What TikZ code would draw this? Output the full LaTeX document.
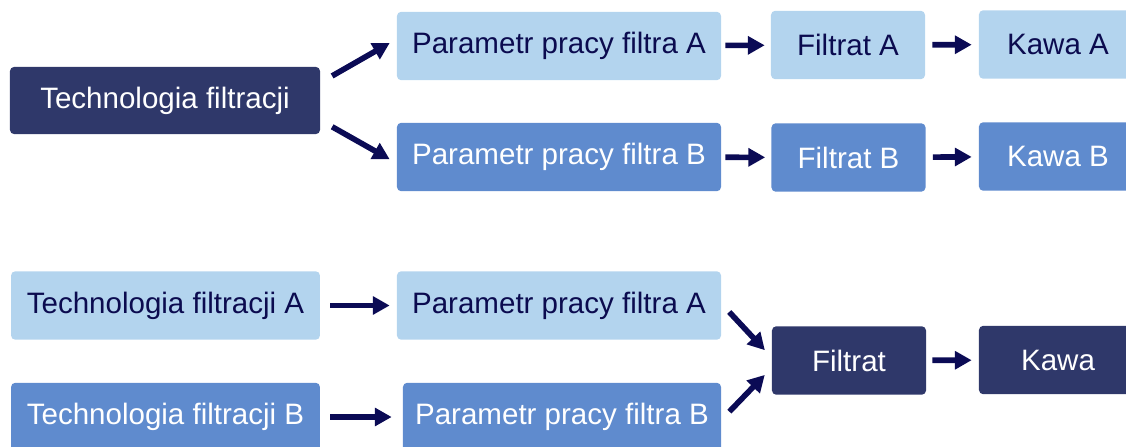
\documentclass[tikz,border=0pt]{standalone}
\usepackage{fontspec}
\setmainfont{Liberation Sans}
\usepackage{tikz}
\usetikzlibrary{arrows.meta, positioning}
\definecolor{lightbox}{HTML}{B3D4EE}
\definecolor{midbox}{HTML}{5F8BCE}
\definecolor{darkbox}{HTML}{2F386A}
\definecolor{navytext}{HTML}{0B0B4F}
\definecolor{arrowcol}{HTML}{0B0B55}
\begin{document}
\begin{tikzpicture}[
    x=0.025cm, y=-0.025cm,
    box/.style={rectangle, rounded corners=3pt, minimum height=1.71cm, align=center, inner sep=0pt, font=\fontsize{21}{25}\selectfont},
    light/.style={box, fill=lightbox, text=navytext},
    mid/.style={box, fill=midbox, text=white},
    dark/.style={box, fill=darkbox, text=white},
    arrow/.style={-{Triangle[length=4.2mm, width=4.4mm]}, line width=4pt, draw=arrowcol}
]
\path[use as bounding box, clip] (0,0) rectangle (1126,447);

\node[dark, minimum width=7.75cm, minimum height=1.68cm] (tech) at (165,100.5) {Technologia filtracji};
\node[light, minimum width=8.1cm] (parA) at (559,46) {Parametr pracy filtra A};
\node[light, minimum width=3.85cm] (filtA) at (848,45) {Filtrat A};
\node[light, minimum width=3.95cm] (kawaA) at (1058,44.5) {Kawa A};
\node[mid, minimum width=8.1cm] (parB) at (559,157) {Parametr pracy filtra B};
\node[mid, minimum width=3.85cm] (filtB) at (848.5,157.5) {Filtrat B};
\node[mid, minimum width=3.95cm] (kawaB) at (1058,156.5) {Kawa B};

\node[light, minimum width=7.72cm] (techA) at (165.5,305.5) {Technologia filtracji A};
\node[mid, minimum width=7.72cm] (techB) at (165.5,417) {Technologia filtracji B};
\node[light, minimum width=8.1cm] (parAA) at (559,305.5) {Parametr pracy filtra A};
\node[mid, minimum width=7.95cm] (parBB) at (562,417) {Parametr pracy filtra B};
\node[dark, minimum width=3.85cm] (filt) at (849,360.5) {Filtrat};
\node[dark, minimum width=3.95cm] (kawa) at (1058,360) {Kawa};

\draw[arrow, shorten <=0.34cm, shorten >=0.2cm] ([yshift=0.445cm]tech.east) -- ([yshift=0.175cm]parA.west);
\draw[arrow, shorten <=0.34cm, shorten >=0.2cm] ([yshift=-0.49cm]tech.east) -- ([yshift=-0.155cm]parB.west);
\draw[arrow, shorten <=0.1cm, shorten >=0.15cm] (parA) -- (filtA);
\draw[arrow, shorten <=0.175cm, shorten >=0.175cm] (filtA) -- (kawaA);
\draw[arrow, shorten <=0.1cm, shorten >=0.15cm] (parB) -- (filtB);
\draw[arrow, shorten <=0.175cm, shorten >=0.175cm] (filtB) -- (kawaB);

\draw[arrow, shorten <=0.25cm, shorten >=0.175cm] (techA) -- (parAA);
\draw[arrow, shorten <=0.25cm, shorten >=0.275cm] (techB) -- (parBB);
\draw[arrow, shorten <=0.29cm, shorten >=0.25cm] ([yshift=0.05cm]parAA.east) -- ([yshift=0.075cm]filt.west);
\draw[arrow, shorten <=0.29cm, shorten >=0.25cm] ([yshift=-0.075cm]parBB.east) -- ([yshift=-0.18cm]filt.west);
\draw[arrow, shorten <=0.15cm, shorten >=0.175cm] (filt) -- (kawa);
\end{tikzpicture}
\end{document}
